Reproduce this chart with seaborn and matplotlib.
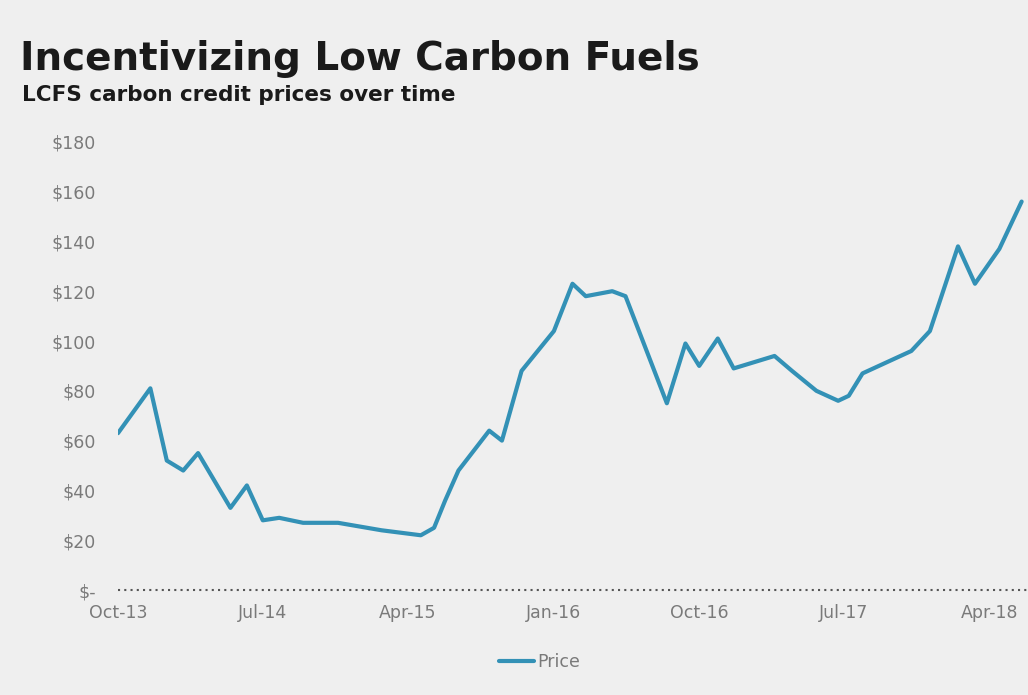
import matplotlib.pyplot as plt
import matplotlib.dates as mdates
import pandas as pd
import seaborn as sns

TITLE = "Incentivizing Low Carbon Fuels"
SUBTITLE = "LCFS carbon credit prices over time"

DATES = [
    "2013-10-01", "2013-12-01", "2014-01-01", "2014-02-01", "2014-03-01",
    "2014-05-01", "2014-06-01", "2014-07-01", "2014-08-01", "2014-09-15",
    "2014-11-20", "2015-02-10", "2015-04-25", "2015-05-20", "2015-06-10",
    "2015-07-05", "2015-09-01", "2015-09-25", "2015-11-01", "2016-01-01",
    "2016-02-05", "2016-03-01", "2016-04-20", "2016-05-15", "2016-08-01",
    "2016-09-05", "2016-10-01", "2016-11-05", "2016-12-05", "2017-02-20",
    "2017-03-25", "2017-05-10", "2017-06-20", "2017-07-10", "2017-08-05",
    "2017-11-05", "2017-12-10", "2018-02-01", "2018-03-05", "2018-04-20",
    "2018-06-01",
]
PRICES = [
    63, 81, 52, 48, 55,
    33, 42, 28, 29, 27,
    27, 24, 22, 25, 36,
    48, 64, 60, 88, 104,
    123, 118, 120, 118, 75,
    99, 90, 101, 89, 94,
    88, 80, 76, 78, 87,
    96, 104, 138, 123, 137,
    156,
]
TICK_DATES = ["2013-10-01", "2014-07-01", "2015-04-01", "2016-01-01",
              "2016-10-01", "2017-07-01", "2018-04-01"]
Y_TICKS = [0, 20, 40, 60, 80, 100, 120, 140, 160, 180]

BG = "#efefef"
LINE = "#3391b6"
GREY = "#7a7a7a"


def money(v, _):
    return "$-" if v == 0 else f"${v:.0f}"


def main() -> None:
    df = pd.DataFrame({"date": pd.to_datetime(DATES), "Price": PRICES})

    sns.set_theme(style="white")
    plt.rcParams["font.family"] = ["DejaVu Sans"]

    fig = plt.figure(figsize=(10.28, 6.95), dpi=100, facecolor=BG)
    ax = fig.add_axes([118 / 1028, 0.151, 1 - 118 / 1028, 0.645])
    ax.set_facecolor(BG)

    sns.lineplot(data=df, x="date", y="Price", ax=ax, color=LINE,
                 linewidth=3, label="Price")

    ax.set_xlim(pd.Timestamp("2013-10-01"), pd.Timestamp("2018-06-13"))
    ax.set_ylim(0, 180)
    ax.set_xticks(pd.to_datetime(TICK_DATES))
    ax.xaxis.set_major_formatter(mdates.DateFormatter("%b-%y"))
    ax.set_yticks(Y_TICKS)
    ax.yaxis.set_major_formatter(plt.FuncFormatter(money))
    ax.tick_params(axis="both", colors=GREY, labelsize=12.5, length=0)
    ax.tick_params(axis="x", pad=10)
    ax.tick_params(axis="y", pad=16)
    ax.set_xlabel("")
    ax.set_ylabel("")
    for s in ax.spines.values():
        s.set_visible(False)
    ax.axhline(0, color="#555555", linestyle=(0, (1, 2)), linewidth=1.5,
               clip_on=False)

    fig.text(20 / 1028, 1 - 59 / 695, TITLE, fontsize=28, fontweight="bold",
             color="#1a1a1a", va="center", ha="left")
    fig.text(22 / 1028, 1 - 95 / 695, SUBTITLE, fontsize=15.5,
             fontweight="bold", color="#1a1a1a", va="center", ha="left")

    leg = ax.legend(loc="center", bbox_to_anchor=(540 / 1028, 1 - 662 / 695),
                    bbox_transform=fig.transFigure, frameon=False,
                    fontsize=12.5, handlelength=2, handletextpad=0.2)
    for t in leg.get_texts():
        t.set_color(GREY)

    fig.savefig("out.png", dpi=100, facecolor=BG)


if __name__ == "__main__":
    main()
